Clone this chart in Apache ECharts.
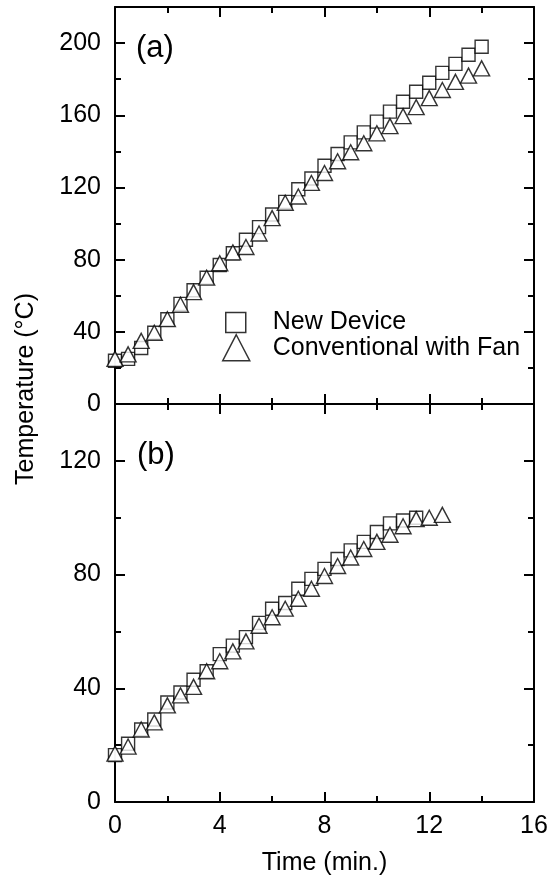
<!DOCTYPE html>
<html>
<head>
    <meta charset="utf-8">
    <title>Temperature vs Time</title>
    <script src="https://cdn.jsdelivr.net/npm/echarts@6/dist/echarts.min.js"></script>
    <style>
        html, body, #main {
            width: 100%;
            height: 100%;
            margin: 0;
            background: #fff;
        }
    </style>
</head>
<body>
    <div id="main"></div>
    <script type="text/javascript">
        // panel (a)
        var timeA = [0, 0.5, 1, 1.5, 2, 2.5, 3, 3.5, 4, 4.5, 5, 5.5, 6, 6.5, 7, 7.5, 8, 8.5, 9, 9.5, 10, 10.5, 11, 11.5, 12, 12.5, 13, 13.5, 14];
        var newA = [24, 25, 31, 39.5, 47, 55.5, 63, 70, 77, 83.5, 91, 98, 105, 112, 119, 125, 132, 138.5, 145, 150.5, 156.5, 162, 167.5, 173, 178, 183.5, 188.5, 193.5, 198];
        var convA = [25, 27.5, 35, 39.5, 47, 55, 62, 70, 78, 84, 87, 94.5, 103, 111.5, 115, 122.5, 128, 134.5, 139.5, 144.5, 150, 154, 159.5, 164.5, 169.5, 174, 178.5, 182, 186];
        // panel (b)
        var timeBNew = [0, 0.5, 1, 1.5, 2, 2.5, 3, 3.5, 4, 4.5, 5, 5.5, 6, 6.5, 7, 7.5, 8, 8.5, 9, 9.5, 10, 10.5, 11, 11.5];
        var newB = [16.5, 20.5, 25.5, 29, 35, 38.5, 43, 46, 52, 55, 58, 63, 68, 70, 75, 78.5, 82, 85.5, 88.5, 91.5, 95, 98, 99, 100];
        var timeBConv = [0, 0.5, 1, 1.5, 2, 2.5, 3, 3.5, 4, 4.5, 5, 5.5, 6, 6.5, 7, 7.5, 8, 8.5, 9, 9.5, 10, 10.5, 11, 11.5, 12, 12.5];
        var convB = [17, 19.5, 25.5, 28, 34, 37.5, 40.5, 46, 49.5, 53, 56.5, 62, 65, 68, 71.5, 75, 79.5, 83, 86, 89, 91.5, 94, 97, 99.5, 100, 101];

        var xTicks = [0, 4, 8, 12, 16];
        var panelLabels = ['(a)', '(b)'];
        var seriesNames = ['New Device', 'Conventional with Fan'];

        var FONT = "'Liberation Sans', Arial, sans-serif";
        var FS = 25;

        function zip(xs, ys) {
            var out = [];
            for (var i = 0; i < xs.length; i++) out.push([xs[i], ys[i]]);
            return out;
        }

        // x axis, ticks inward, minor ticks halfway
        function xAx(grid, pos, withLabels) {
            return {
                type: 'value', gridIndex: grid, position: pos,
                min: xTicks[0], max: xTicks[xTicks.length - 1], interval: 4,
                axisLine: { show: true, onZero: false, lineStyle: { color: '#000', width: 2 } },
                axisTick: { show: true, inside: true, length: 10, lineStyle: { color: '#000', width: 2 } },
                minorTick: { show: true, splitNumber: 2, length: 6, lineStyle: { color: '#000', width: 2 } },
                axisLabel: { show: withLabels, margin: 12, color: '#000', fontSize: FS, fontFamily: FONT },
                splitLine: { show: false },
                name: withLabels ? 'Time (min.)' : '',
                nameLocation: 'middle', nameGap: 49,
                nameTextStyle: { color: '#000', fontSize: FS, fontFamily: FONT }
            };
        }

        // y axis: major (interval 40) or minor (interval 20, short ticks)
        function yAx(grid, pos, max, minor, withLabels) {
            return {
                type: 'value', gridIndex: grid, position: pos,
                min: 0, max: max, interval: minor ? 20 : 40,
                axisLine: { show: !minor, onZero: false, lineStyle: { color: '#000', width: 2 } },
                axisTick: { show: true, inside: true, length: minor ? 6 : 10, lineStyle: { color: '#000', width: 2 } },
                axisLabel: { show: withLabels, showMaxLabel: false, margin: 14, color: '#000', fontSize: FS, fontFamily: FONT },
                splitLine: { show: false }
            };
        }

        var symStyle = { color: '#fff', borderColor: '#000', borderWidth: 1.4 };

        var myChart = echarts.init(document.getElementById('main'));
        var option = {
            backgroundColor: '#fff',
            animation: false,
            title: [
                { text: panelLabels[0], left: 136, top: 33, padding: 0,
                  textStyle: { color: '#000', fontSize: 31, fontWeight: 'normal', fontFamily: FONT } },
                { text: panelLabels[1], left: 137, top: 440, padding: 0,
                  textStyle: { color: '#000', fontSize: 31, fontWeight: 'normal', fontFamily: FONT } }
            ],
            legend: [
                { data: [seriesNames[0]], left: 225, top: 310, padding: 0, orient: 'vertical',
                  selectedMode: false, itemWidth: 20, itemHeight: 20,
                  itemStyle: { borderWidth: 1.5 },
                  textStyle: { color: '#000', fontSize: FS, fontFamily: FONT, padding: [0, 0, 0, 22] } },
                { data: [seriesNames[1]], left: 222, top: 334, padding: 0, orient: 'vertical',
                  selectedMode: false, itemWidth: 27, itemHeight: 26,
                  itemStyle: { borderWidth: 1.5 },
                  textStyle: { color: '#000', fontSize: FS, fontFamily: FONT, padding: [0, 0, 0, 18] } }
            ],
            grid: [
                { left: 115, right: 24, top: 7, height: 397 },
                { left: 115, right: 24, top: 404, height: 398 },
                { left: 115, right: 24, top: 0, height: 778 }
            ],
            xAxis: [
                xAx(0, 'bottom', false),
                xAx(0, 'top', false),
                xAx(1, 'bottom', true),
                xAx(1, 'top', false),
                { type: 'value', gridIndex: 2, show: false, min: 0, max: 1 }
            ],
            yAxis: [
                yAx(0, 'left', 220, false, true),
                yAx(0, 'right', 220, false, false),
                yAx(0, 'left', 220, true, false),
                yAx(0, 'right', 220, true, false),
                yAx(1, 'left', 140, false, true),
                yAx(1, 'right', 140, false, false),
                yAx(1, 'left', 140, true, false),
                yAx(1, 'right', 140, true, false),
                {
                    type: 'value', gridIndex: 2, min: 0, max: 1,
                    axisLine: { show: false }, axisTick: { show: false },
                    axisLabel: { show: false }, splitLine: { show: false },
                    name: 'Temperature (°C)', nameLocation: 'middle', nameGap: 76,
                    nameTextStyle: { color: '#000', fontSize: FS, fontFamily: FONT }
                }
            ],
            series: [
                { name: seriesNames[0], type: 'scatter', xAxisIndex: 0, yAxisIndex: 0,
                  symbol: 'rect', symbolSize: 13, itemStyle: symStyle, data: zip(timeA, newA) },
                { name: seriesNames[1], type: 'scatter', xAxisIndex: 0, yAxisIndex: 0,
                  symbol: 'triangle', symbolSize: [16, 15], itemStyle: symStyle, data: zip(timeA, convA) },
                { name: seriesNames[0], type: 'scatter', xAxisIndex: 2, yAxisIndex: 4,
                  symbol: 'rect', symbolSize: 13, itemStyle: symStyle, data: zip(timeBNew, newB) },
                { name: seriesNames[1], type: 'scatter', xAxisIndex: 2, yAxisIndex: 4,
                  symbol: 'triangle', symbolSize: [16, 15], itemStyle: symStyle, data: zip(timeBConv, convB) }
            ]
        };
        myChart.setOption(option);
        window.onresize = myChart.resize;
    </script>
</body>
</html>
